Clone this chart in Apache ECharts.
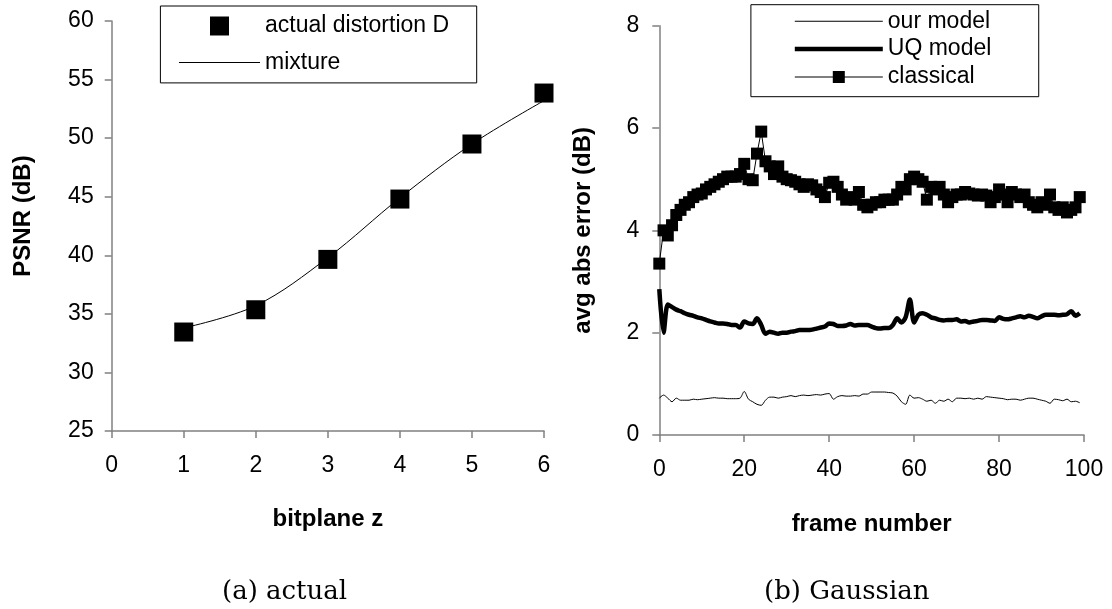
<!DOCTYPE html>
<html><head><meta charset="utf-8">
<script src="https://cdn.jsdelivr.net/npm/echarts@6/dist/echarts.min.js"></script>
<style>html,body{margin:0;padding:0;background:#fff}#c{width:1112px;height:609px}</style>
</head><body><div id="c"></div><script>
// ---- (a) actual ----
const bitplanes = [1, 2, 3, 4, 5, 6];
const actualD = [33.45, 35.35, 39.65, 44.8, 49.5, 53.85];
const mixture = [33.8, 35.7, 39.8, 44.9, 49.5, 53.2];

// ---- (b) Gaussian ----
const frames = Array.from({length: 100}, (_, i) => i);
const classical = [
 3.35,4.0,3.9,4.1,4.3,4.4,4.5,4.55,4.65,4.7,
 4.72,4.8,4.85,4.9,4.95,5.0,5.05,5.05,5.05,5.1,
 5.3,5.0,4.98,5.5,5.93,5.35,5.25,5.1,5.25,5.05,
 5.0,4.98,4.95,4.9,4.85,4.9,4.88,4.8,4.75,4.65,
 4.93,4.95,4.85,4.7,4.6,4.65,4.6,4.75,4.5,4.45,
 4.5,4.55,4.55,4.6,4.6,4.6,4.7,4.85,4.8,5.0,
 5.05,5.0,4.95,4.6,4.85,4.8,4.85,4.7,4.55,4.65,
 4.7,4.7,4.75,4.72,4.7,4.68,4.7,4.68,4.55,4.65,
 4.8,4.7,4.55,4.75,4.7,4.65,4.7,4.55,4.5,4.45,
 4.55,4.5,4.7,4.45,4.4,4.45,4.35,4.4,4.45,4.65
];
const uqModel = [
 2.85,2.0,2.55,2.5,2.45,2.42,2.38,2.35,2.33,2.3,
 2.28,2.25,2.22,2.2,2.18,2.18,2.17,2.15,2.15,2.1,
 2.22,2.18,2.17,2.28,2.15,1.98,2.02,2.0,1.98,2.0,
 2.0,2.02,2.03,2.05,2.05,2.05,2.06,2.08,2.1,2.12,
 2.18,2.17,2.13,2.13,2.14,2.17,2.14,2.15,2.15,2.15,
 2.12,2.09,2.08,2.09,2.09,2.15,2.28,2.2,2.3,2.65,
 2.2,2.35,2.38,2.35,2.3,2.28,2.25,2.24,2.25,2.25,
 2.26,2.22,2.23,2.2,2.22,2.23,2.25,2.25,2.24,2.23,
 2.3,2.27,2.26,2.28,2.3,2.32,2.3,2.33,2.31,2.28,
 2.32,2.35,2.35,2.35,2.34,2.35,2.36,2.42,2.33,2.38
];
const ourModel = [
 0.72,0.78,0.72,0.65,0.72,0.68,0.68,0.68,0.7,0.69,
 0.7,0.71,0.72,0.73,0.72,0.72,0.71,0.71,0.71,0.72,
 0.85,0.7,0.65,0.6,0.58,0.68,0.74,0.74,0.72,0.74,
 0.75,0.77,0.75,0.77,0.78,0.77,0.78,0.79,0.78,0.8,
 0.81,0.7,0.75,0.77,0.76,0.76,0.77,0.76,0.8,0.8,
 0.84,0.84,0.84,0.84,0.83,0.82,0.76,0.65,0.6,0.78,
 0.72,0.73,0.7,0.66,0.68,0.62,0.68,0.66,0.7,0.65,
 0.72,0.72,0.71,0.72,0.7,0.72,0.7,0.75,0.74,0.73,
 0.72,0.71,0.69,0.7,0.7,0.68,0.7,0.72,0.72,0.7,
 0.68,0.66,0.62,0.7,0.69,0.67,0.7,0.65,0.66,0.63
];

const FONT = '"Liberation Sans", Arial, sans-serif';
const SERIF = '"DejaVu Serif", serif';
function axis(extra) {
  return Object.assign({
    type: 'value',
    nameLocation: 'middle',
    axisLine: {show: true, onZero: false, lineStyle: {color: '#808080', width: 1.5}},
    axisTick: {show: true, inside: false, length: 7, lineStyle: {color: '#808080', width: 1.5}},
    splitLine: {show: false},
    nameTextStyle: {color: '#000', fontFamily: FONT, fontSize: 24, fontWeight: 'bold'}
  }, extra);
}
function lab(margin) {
  return {color: '#000', fontFamily: FONT, fontSize: 23, margin: margin};
}
const legendText = {fontFamily: FONT, fontSize: 23, lineHeight: 23, color: '#000'};
const capStyle = {fontFamily: SERIF, fontSize: 26, fontWeight: 'normal', color: '#000'};

const option = {
  animation: false,
  backgroundColor: '#fff',
  title: [
    {text: '(a) actual', left: 222, top: 579, padding: 0, textStyle: capStyle},
    {text: '(b) Gaussian', left: 764, top: 579, padding: 0, textStyle: capStyle}
  ],
  grid: [
    {left: 111.7, top: 21, width: 432.3, height: 410, containLabel: false, outerBoundsMode: 'none'},
    {left: 659.3, top: 25.7, width: 424.7, height: 409.3, containLabel: false, outerBoundsMode: 'none'}
  ],
  xAxis: [
    axis({gridIndex: 0, min: 0, max: 6, interval: 1, name: 'bitplane z', nameGap: 76, axisLabel: lab(23)}),
    axis({gridIndex: 1, min: 0, max: 100, interval: 20, name: 'frame number', nameGap: 77, axisLabel: lab(23)})
  ],
  yAxis: [
    axis({gridIndex: 0, min: 25, max: 60, interval: 5, name: 'PSNR (dB)', nameGap: 76, axisLabel: lab(18),
          nameTextStyle: {color: '#000', fontFamily: FONT, fontSize: 24, fontWeight: 'bold', padding: [0, 0, 0, 20]}}),
    axis({gridIndex: 1, min: 0, max: 8, interval: 2, name: 'avg abs error (dB)', nameGap: 64, axisLabel: lab(20)})
  ],
  legend: [
    {orient: 'vertical', left: 160.4, top: 6, padding: [8.5, 27.6, 8.8, 18.6],
     borderColor: '#000', borderWidth: 1, itemWidth: 81, itemHeight: 19, itemGap: 13.6,
     selectedMode: false, textStyle: legendText, itemStyle: {borderWidth: 0},
     data: [{name: 'actual distortion D', icon: 'path://M0,0H19V19H0Z'},
            {name: 'mixture', icon: 'path://M0,0H81V1H0Z'}]},
    {orient: 'vertical', left: 750.9, top: 4.7, padding: [5.1, 47.4, 8.3, 43.9],
     borderColor: '#000', borderWidth: 1, itemWidth: 88, itemHeight: 19, itemGap: 4.8,
     selectedMode: false, textStyle: legendText, itemStyle: {borderWidth: 0},
     data: [{name: 'our model', icon: 'path://M0,0H88V1H0Z'},
            {name: 'UQ model', icon: 'path://M0,0H88V4.5H0Z'},
            {name: 'classical', icon: 'path://M0,9H88V10H0Z M38,3.5H50V15.5H38Z'}]}
  ],
  series: [
    {name: 'mixture', type: 'line', xAxisIndex: 0, yAxisIndex: 0, smooth: 0.35,
     symbol: 'none', lineStyle: {color: '#000', width: 1}, itemStyle: {color: '#000'},
     data: bitplanes.map((b, i) => [b, mixture[i]]), clip: false, z: 2},
    {name: 'actual distortion D', type: 'scatter', xAxisIndex: 0, yAxisIndex: 0,
     symbol: 'rect', symbolSize: 19, itemStyle: {color: '#000', opacity: 1},
     data: bitplanes.map((b, i) => [b, actualD[i]]), clip: false, z: 3},
    {name: 'our model', type: 'line', xAxisIndex: 1, yAxisIndex: 1, smooth: 0.3,
     symbol: 'none', lineStyle: {color: '#000', width: 1}, itemStyle: {color: '#000'},
     data: frames.map((f, i) => [f, ourModel[i]]), clip: false, z: 2},
    {name: 'UQ model', type: 'line', xAxisIndex: 1, yAxisIndex: 1, smooth: 0.3,
     symbol: 'none', lineStyle: {color: '#000', width: 4.5}, itemStyle: {color: '#000'},
     data: frames.map((f, i) => [f, uqModel[i]]), clip: false, z: 2},
    {name: 'classical', type: 'line', xAxisIndex: 1, yAxisIndex: 1,
     symbol: 'rect', symbolSize: 12, showSymbol: true, showAllSymbol: true,
     lineStyle: {color: '#000', width: 1}, itemStyle: {color: '#000', borderWidth: 0},
     data: frames.map((f, i) => [f, classical[i]]), clip: false, z: 3}
  ]
};
const chart = echarts.init(document.getElementById('c'), null, {renderer: 'canvas'});
chart.setOption(option);
</script></body></html>
